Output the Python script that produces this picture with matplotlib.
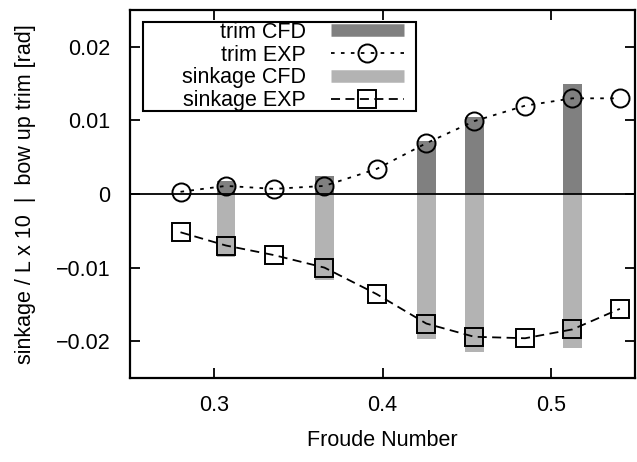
import matplotlib
matplotlib.use("Agg")
import matplotlib.pyplot as plt
from matplotlib.lines import Line2D
from matplotlib.patches import Rectangle

plt.rcParams['font.family'] = ['Liberation Sans', 'DejaVu Sans']
plt.rcParams['font.size'] = 15.5

# experiment (markers)
fr_exp = [0.280, 0.307, 0.3355, 0.3655, 0.3965, 0.426, 0.4545, 0.4847, 0.5128, 0.541]
trim_exp = [0.0003, 0.0011, 0.0007, 0.0011, 0.0034, 0.0069, 0.0099, 0.0120, 0.0130, 0.0130]
sink_exp = [-0.0052, -0.0070, -0.0083, -0.0100, -0.0136, -0.0176, -0.0194, -0.0196, -0.0184, -0.0156]

# CFD (bars)
fr_cfd = [0.307, 0.3655, 0.426, 0.4545, 0.5128]
trim_cfd = [0.0018, 0.0024, 0.0072, 0.0104, 0.0149]
sink_cfd = [-0.0086, -0.0117, -0.0197, -0.0214, -0.0209]

xticks = [0.3, 0.4, 0.5]
xticklabels = ['0.3', '0.4', '0.5']
yticks = [-0.02, -0.01, 0, 0.01, 0.02]
yticklabels = ['\u22120.02', '\u22120.01', '0', '0.01', '0.02']

dark = '#808080'
light = '#b3b3b3'

W, H = 637, 462
fig = plt.figure(figsize=(W / 100, H / 100), dpi=100)
ax = fig.add_axes([130/W, 1 - 378/H, 505/W, 368/H])

ax.bar(fr_cfd, trim_cfd, width=0.011, color=dark, zorder=1)
ax.bar(fr_cfd, sink_cfd, width=0.011, color=light, zorder=1)
ax.axhline(0, color='black', lw=1.3, zorder=2)

ax.plot(fr_exp, trim_exp, color='black', lw=1.3, dashes=(2, 3.5),
        marker='o', ms=13, mfc='none', mec='black', mew=1.4, zorder=3)
ax.plot(fr_exp, sink_exp, color='black', lw=1.3, dashes=(5, 3),
        marker='s', ms=13, mfc='none', mec='black', mew=1.4, zorder=3)

ax.set_xlim(0.25, 0.55)
ax.set_ylim(-0.025, 0.025)
ax.set_xticks(xticks)
ax.set_xticklabels(xticklabels)
ax.set_yticks(yticks)
ax.set_yticklabels(yticklabels)
ax.tick_params(direction='in', length=7, width=1.3, top=True, right=True)
ax.tick_params(axis='y', pad=14)
ax.tick_params(axis='x', pad=12)
for s in ax.spines.values():
    s.set_linewidth(1.6)

ax.set_xlabel('Froude Number', labelpad=10)
ax.set_ylabel('sinkage / L x 10  |  bow up trim [rad]', labelpad=14)

# gnuplot-style key box: wider than its contents, so draw it by hand
ax.add_patch(Rectangle((143/W, 1 - 111/H), 273/W, 89/H, transform=fig.transFigure,
                       facecolor='white', edgecolor='black', lw=1.5, zorder=4,
                       clip_on=False))

handles = [
    Line2D([], [], color=dark, lw=9, solid_capstyle='butt'),
    Line2D([], [], color='black', lw=1.3, dashes=(2, 3.5), marker='o', ms=13,
           mfc='none', mec='black', mew=1.4),
    Line2D([], [], color=light, lw=9, solid_capstyle='butt'),
    Line2D([], [], color='black', lw=1.3, dashes=(5, 3), marker='s', ms=13,
           mfc='none', mec='black', mew=1.4),
]
labels = ['trim CFD', 'trim EXP', 'sinkage CFD', 'sinkage EXP']
# markerfirst=False right-aligns the rows, so labels end flush against the keys
leg = ax.legend(handles, labels, loc='upper right',
                bbox_to_anchor=(404/W, 1 - 22/H), bbox_transform=fig.transFigure,
                markerfirst=False, frameon=False,
                handlelength=3.4, handletextpad=1.15, labelspacing=0.08,
                borderpad=0, borderaxespad=0)
leg.set_zorder(5)

fig.savefig('out.png', dpi=100)
